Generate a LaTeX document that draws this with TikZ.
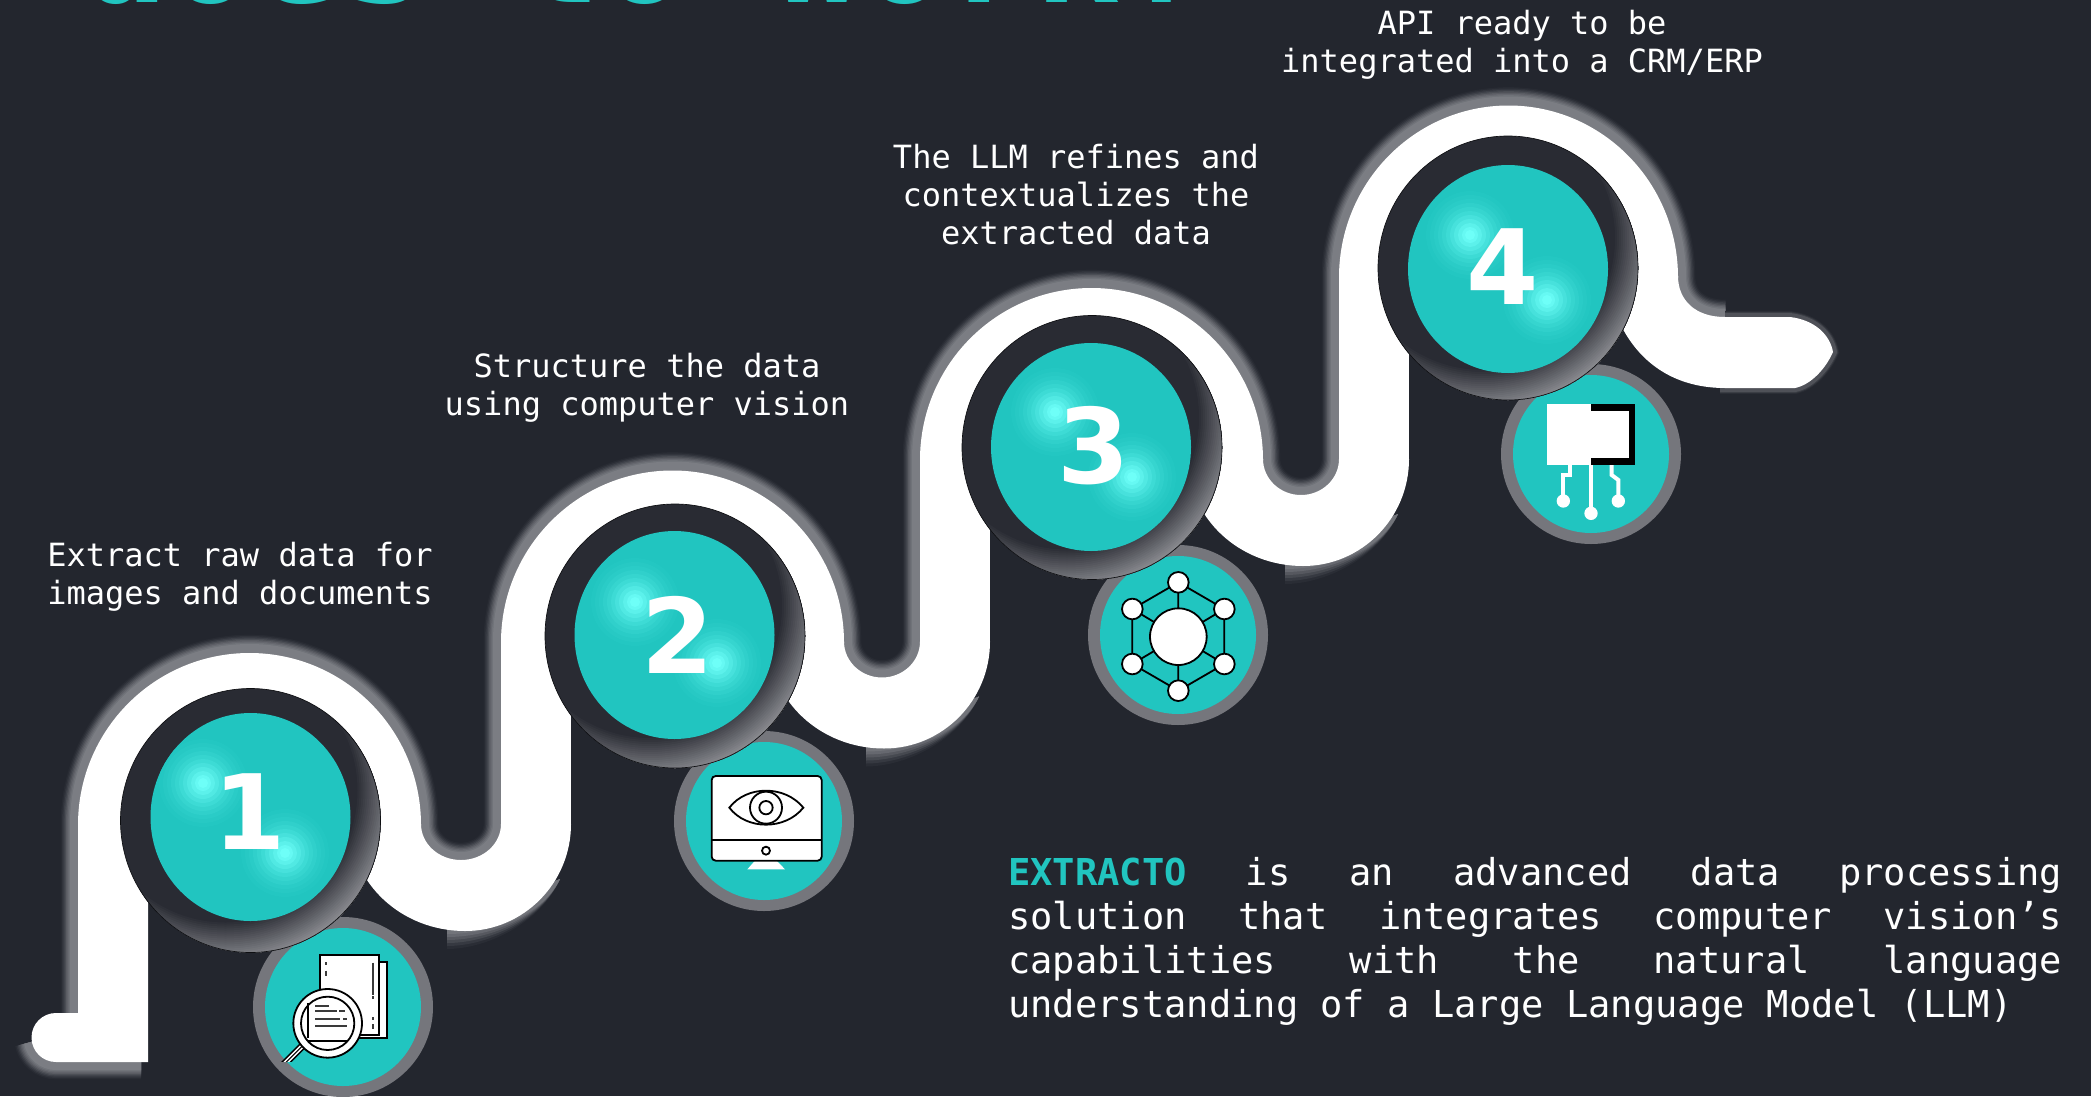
\documentclass[tikz,border=0pt]{standalone}
\usepackage{fontspec}
\setmainfont{DejaVu Sans Mono}
\newfontfamily\digitfont{DejaVu Sans}
\definecolor{bgc}{HTML}{23262E}
\definecolor{tealc}{HTML}{21C5C0}
\definecolor{glowc}{HTML}{6EFFF8}
\definecolor{halog}{HTML}{7B7D83}
\definecolor{ringg}{HTML}{75767C}
\definecolor{barg}{HTML}{3A3A3A}
\definecolor{rimdark}{HTML}{292B33}
\definecolor{rimlight}{HTML}{8C8D92}
\tikzset{
 ribbon/.style={fill=white,draw=none},
 label/.style={text=white,align=center,font=\fontsize{24}{28.5}\selectfont,inner sep=0pt},
 digit/.style={text=white,font=\digitfont\bfseries\fontsize{78}{78}\selectfont,inner sep=0pt,anchor=center},
 ring/.style={fill=ringg,draw=none},
 core/.style={fill=tealc,draw=none},
 ink/.style={draw=black,fill=white,line width=1.35pt},
 thinink/.style={draw=black,line width=1.35pt},
 trace/.style={draw=white,line width=3pt},
 bar/.style={draw=barg,line width=1.6pt}
}
\newcommand{\glowspot}[2]{%
 \foreach \r/\p in {44/3,40/7,36/12,32/19,28/27,24/37,20/49,16/62,12/76,8/90,5/100}
  \fill[glowc!\p!tealc] (#1,#2) circle[radius=\r];}
% #1,#2 disc centre; #3,#4 teal centre; #5,#6 and #7,#8 highlights
\newcommand{\discbody}[8]{%
 \begin{scope}
  \clip (#1,#2) ellipse[x radius=130,y radius=132];
  \fill[rimdark] (#1,#2) ellipse[x radius=130,y radius=132];
  \foreach \d in {130,132,...,172}{
   \pgfmathsetmacro{\p}{min(100,(\d-130)*2.5)}
   \fill[rimlight!\p!rimdark,even odd rule] (#1-25,#2-30) circle[radius=180] (#1-25,#2-30) circle[radius=\d];
  }
 \end{scope}
 \draw[draw=black!60!bgc,line width=.5pt] (#1,#2) ellipse[x radius=130,y radius=132];
 \fill[tealc] (#3,#4) ellipse[x radius=100,y radius=104];
 \begin{scope}
  \clip (#3,#4) ellipse[x radius=100,y radius=104];
  \glowspot{#5}{#6}
  \glowspot{#7}{#8}
 \end{scope}}
\newcommand{\upperedge}{
 (78,1013) -- (78,824) arc[start angle=180,end angle=360,x radius=171.5,y radius=172]
 arc[start angle=180,end angle=0,x radius=40,y radius=36]
 -- (501,641.5) arc[start angle=180,end angle=360,x radius=171.5,y radius=172]
 arc[start angle=180,end angle=0,x radius=38,y radius=36]
 -- (920,459) arc[start angle=180,end angle=360,x radius=171.5,y radius=172]
 arc[start angle=180,end angle=0,x radius=38,y radius=36]
 -- (1339,276.5) arc[start angle=180,end angle=360,x radius=169.5,y radius=172]
 .. controls (1678,300) and (1695,317) .. (1725,317)}
\begin{document}
\begin{tikzpicture}[x=0.75pt,y=-0.75pt]
\clip (0,0) rectangle (2091,1096);
\fill[bgc] (0,0) rectangle (2091,1096);
% cropped title
\node[anchor=base west,inner sep=0pt,text=tealc,font=\bfseries\fontsize{108}{108}\selectfont] (title) at (81,2) {does to work?};
% halo
\foreach \w/\p in {26/6,24/16,22/30,20/46,18/62,16/76,14/88,12/100}{
 \draw[draw=halog!\p!bgc,line width=\w pt] (141,1062) -- (56,1062) arc[start angle=90,end angle=170,radius=24.5];
 \draw[draw=halog!\p!bgc,line width=\w pt,line join=round] \upperedge;
}
% soft shadow below each bowl
\foreach \Uc/\Y in {465/824, 884/641.5, 1303/459}{
 \foreach \h/\p in {18/8,15/22,12/40,9/58,6/76,3/90}{
  \fill[halog!\p!bgc] (\Uc-18,\Y+100) -- (\Uc-18,\Y+107+\h) .. controls (\Uc+20,\Y+107+\h) and (\Uc+75,\Y+95+0.3*\h) .. (\Uc+95,\Y+55) -- cycle;
 }
}
% thin halo round the ribbon end
\foreach \w/\p in {9/8,7.5/25,6/50}{
 \draw[draw=halog!\p!bgc,line width=\w pt] (1725,317) -- (1790,317) .. controls (1815,320) and (1830,335) .. (1833,352) .. controls (1825,370) and (1810,385) .. (1795,388) -- (1720,388);
}
% ribbon: start
\fill[ribbon] (148,1062) -- (56,1062) arc[start angle=90,end angle=270,radius=24.5] -- (78,1013) -- (78,824) -- (148,824) -- cycle;
% arches
\fill[ribbon] (78,825) arc[start angle=180,end angle=360,x radius=171.5,y radius=172] -- cycle;
\fill[ribbon] (501,642.5) arc[start angle=180,end angle=360,x radius=171.5,y radius=172] -- cycle;
\fill[ribbon] (920,460) arc[start angle=180,end angle=360,x radius=171.5,y radius=172] -- cycle;
\fill[ribbon] (1339,277.5) arc[start angle=180,end angle=360,x radius=169.5,y radius=172] -- cycle;
% bowls
\foreach \R/\Ln/\Y/\Uc in {421/501/824/465, 844/920/641.5/884, 1263/1339/459/1303}{
 \pgfmathsetmacro{\Rx}{\Ln+70-\Uc}
 \pgfmathsetmacro{\Ri}{(\Ln-\R)/2}
 \fill[ribbon] (\Ln+70,\Y) arc[start angle=0,end angle=90,x radius=\Rx,y radius=107]
  arc[start angle=90,end angle=180,x radius=115,y radius=107]
  -- (\R,\Y) arc[start angle=180,end angle=0,x radius=\Ri,y radius=36] -- cycle;
}
% verticals
\fill[ribbon] (501,641.5) rectangle (571,825);
\fill[ribbon] (920,459) rectangle (990,642.5);
\fill[ribbon] (1339,276.5) rectangle (1409,460);
% ribbon end
\fill[ribbon] (1678,276) .. controls (1678,300) and (1695,317) .. (1725,317) -- (1790,317)
 .. controls (1815,320) and (1830,335) .. (1833,352) .. controls (1825,370) and (1810,385) .. (1795,388)
 -- (1725,388) .. controls (1680,388) and (1645,368) .. (1624,331) -- (1590,276) -- cycle;
% small discs
\fill[ring] (343,1007) circle[radius=90]; \fill[core] (343,1007) ellipse[x radius=78,y radius=79];
\fill[ring] (764,821) circle[radius=90]; \fill[core] (764,821) ellipse[x radius=78,y radius=79];
\fill[ring] (1178,635) circle[radius=90]; \fill[core] (1178,635) ellipse[x radius=78,y radius=79];
\fill[ring] (1591,454) circle[radius=90]; \fill[core] (1591,454) ellipse[x radius=78,y radius=79];
% icon 1
\begin{scope}[shift={(240,910)},x=0.25pt,y=-0.25pt]
 \draw[ink] (300,155) rectangle (440,385);
 \draw[ink] (240,135) rectangle (418,375);
 \draw[bar] (398,158) -- (398,255) (398,258) -- (398,266) (398,322) -- (398,330) (398,342) -- (398,358);
 \draw[bar] (258,157) -- (258,165) (258,182) -- (258,198);
 \begin{scope}
  \clip (100,100) rectangle (460,455);
  \draw[draw=black,line width=5.5pt] (190,405) -- (125,470);
  \draw[draw=white,line width=3.2pt] (190,405) -- (125,470);
  \draw[draw=black,line width=.8pt] (190,405) -- (125,470);
 \end{scope}
 \draw[ink] (263,340) circle[radius=103];
 \draw[ink] (263,340) circle[radius=80];
 \draw[thinink] (205,280) -- (205,385) (205,392) -- (320,392);
 \draw[bar] (225,288) -- (268,288) (225,304) -- (290,304) (298,304) -- (315,304) (225,326) -- (300,326) (310,326) -- (320,326) (225,349) -- (320,349);
\end{scope}
% icon 2
\begin{scope}[shift={(640,700)},x=0.25pt,y=-0.25pt]
 \fill[white] (322,508) -- (345,482) -- (410,482) -- (435,508) -- cycle;
 \draw[ink,rounded corners=3pt] (215,228) rectangle (545,482);
 \draw[thinink] (215,420) -- (545,420);
 \draw[thinink] (268,323) .. controls (320,255) and (435,255) .. (490,323) .. controls (435,391) and (320,391) .. (268,323) -- cycle;
 \draw[thinink] (378,323) circle[radius=48];
 \draw[thinink] (378,323) circle[radius=20];
 \draw[thinink] (378,452) circle[radius=12];
\end{scope}
% icon 3
\begin{scope}[shift={(1070,520)},x=0.25pt,y=-0.25pt]
 \draw[thinink] (325,187) -- (463,267) -- (463,432) -- (325,512) -- (187,432) -- (187,267) -- cycle;
 \draw[thinink] (325,187) -- (325,512) (187,267) -- (463,432) (187,432) -- (463,267);
 \draw[ink] (325,350) circle[radius=85];
 \foreach \px/\py in {325/187,187/267,463/267,187/432,463/432,325/512}
  \draw[ink] (\px,\py) circle[radius=31];
\end{scope}
% icon 4
\begin{scope}[shift={(1480,340)},x=0.25pt,y=-0.25pt]
 \fill[black] (332,192) rectangle (465,375);
 \fill[white] (200,192) rectangle (332,375);
 \fill[white] (332,212) rectangle (447,355);
 \draw[trace] (333,375) -- (333,520);
 \draw[trace] (270,375) -- (270,405) -- (250,405) -- (250,483);
 \draw[trace] (395,375) -- (395,405) -- (415,420) -- (415,483);
 \fill[white] (333,520) circle[radius=20] (250,483) circle[radius=20] (415,483) circle[radius=20];
\end{scope}
% large discs
\discbody{250.5}{820.5}{250.5}{817}{203}{783}{285}{853}
\discbody{675}{636}{674.5}{635}{635}{602}{717}{663}
\discbody{1092}{447.5}{1091}{447}{1055}{412}{1132}{477}
\discbody{1508}{268}{1508}{269}{1470}{235}{1547}{300}
\node[digit] (d1) at (250,812) {1};
\node[digit] (d2) at (678,635) {2};
\node[digit] (d3) at (1094,446) {3};
\node[digit] (d4) at (1503,267) {4};
% labels
\node[label] (t1) at (240,577) {Extract raw data for\\images and documents};
\node[label] (t2) at (647,388) {Structure the data\\using computer vision};
\node[label] (t3) at (1076,195) {The LLM refines and\\contextualizes the\\extracted data};
\node[label] (t4) at (1522,44.5) {API ready to be\\integrated into a CRM/ERP};
% paragraph
\node[anchor=north west,inner sep=0pt,text=white,text width=790.5pt,align=left,font=\fontsize{27.8}{33}\selectfont] (para) at (1008,857.5) {\spaceskip=0pt\xspaceskip=0pt%
\hbox to 790.5pt{\textcolor{tealc}{\bfseries EXTRACTO}\hfill is\hfill an\hfill advanced\hfill data\hfill processing}
\hbox to 790.5pt{solution\hfill that\hfill integrates\hfill computer\hfill vision’s}
\hbox to 790.5pt{capabilities\hfill with\hfill the\hfill natural\hfill language}
\hbox to 790.5pt{understanding of a Large Language Model (LLM)\hfill}};
\end{tikzpicture}
\end{document}
